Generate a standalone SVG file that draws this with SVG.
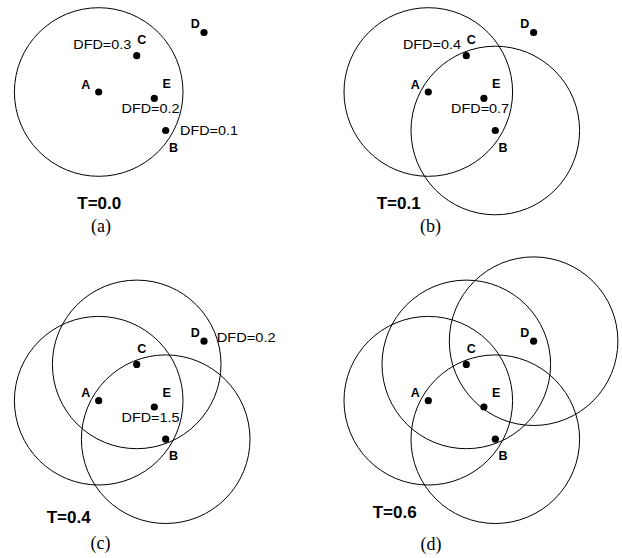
<svg xmlns="http://www.w3.org/2000/svg" width="622" height="558" viewBox="0 0 622 558">
<style>
.ring{fill:none;stroke:#000;stroke-width:1}
.dot{fill:#000}
.lbl{font-family:"Liberation Sans",Arial,sans-serif;font-weight:bold;font-size:12.5px;fill:#000}
.dfd{font-family:"Liberation Sans",Arial,sans-serif;font-size:13px;fill:#000}
.tl{font-family:"Liberation Sans",Arial,sans-serif;font-weight:bold;font-size:17px;fill:#000}
.cap{font-family:"Liberation Serif","Times New Roman",serif;font-size:18px;fill:#000;text-anchor:middle}
</style>
<rect width="622" height="558" fill="#fff"/>

<!-- Panel (a) -->
<g id="panel-a">
  <g id="a-ranges">
    <circle class="ring" cx="98.7" cy="92" r="84.3"/>
  </g>
  <g id="a-node-A"><circle class="dot" cx="98.7" cy="92" r="3.6"/><text class="lbl" x="81.2" y="89">A</text></g>
  <g id="a-node-C"><circle class="dot" cx="136.7" cy="55.7" r="3.6"/><text class="lbl" x="137.2" y="44">C</text><text class="dfd" x="73.3" y="49.3" textLength="58" lengthAdjust="spacingAndGlyphs">DFD=0.3</text></g>
  <g id="a-node-E"><circle class="dot" cx="154.3" cy="98.3" r="3.6"/><text class="lbl" x="162.5" y="88">E</text><text class="dfd" x="121.5" y="113.3" textLength="58" lengthAdjust="spacingAndGlyphs">DFD=0.2</text></g>
  <g id="a-node-B"><circle class="dot" cx="165.7" cy="130.5" r="3.6"/><text class="lbl" x="169" y="151.5">B</text><text class="dfd" x="180" y="135" textLength="58" lengthAdjust="spacingAndGlyphs">DFD=0.1</text></g>
  <g id="a-node-D"><circle class="dot" cx="204" cy="32.5" r="3.6"/><text class="lbl" x="190.7" y="28">D</text></g>
  <text class="tl" x="77.3" y="209.3">T=0.0</text>
  <text class="cap" x="101" y="231.5">(a)</text>
</g>

<!-- Panel (b) -->
<g id="panel-b" transform="translate(329.6,0)">
  <g id="b-ranges">
    <circle class="ring" cx="98.7" cy="92" r="84.3"/>
    <circle class="ring" cx="165.7" cy="130.5" r="84.3"/>
  </g>
  <g id="b-node-A"><circle class="dot" cx="98.7" cy="92" r="3.6"/><text class="lbl" x="81.2" y="89">A</text></g>
  <g id="b-node-C"><circle class="dot" cx="136.7" cy="55.7" r="3.6"/><text class="lbl" x="137.2" y="44">C</text><text class="dfd" x="73.3" y="49.3" textLength="58" lengthAdjust="spacingAndGlyphs">DFD=0.4</text></g>
  <g id="b-node-E"><circle class="dot" cx="154.3" cy="98.3" r="3.6"/><text class="lbl" x="162.5" y="88">E</text><text class="dfd" x="121.5" y="113.3" textLength="58" lengthAdjust="spacingAndGlyphs">DFD=0.7</text></g>
  <g id="b-node-B"><circle class="dot" cx="165.7" cy="130.5" r="3.6"/><text class="lbl" x="169" y="151.5">B</text></g>
  <g id="b-node-D"><circle class="dot" cx="204" cy="32.5" r="3.6"/><text class="lbl" x="190.7" y="28">D</text></g>
  <text class="tl" x="47.1" y="209.3">T=0.1</text>
  <text class="cap" x="101" y="231.5">(b)</text>
</g>

<!-- Panel (c) -->
<g id="panel-c" transform="translate(0,308.7)">
  <g id="c-ranges">
    <circle class="ring" cx="98.7" cy="92" r="84.3"/>
    <circle class="ring" cx="136.7" cy="55.7" r="84.3"/>
    <circle class="ring" cx="165.7" cy="130.5" r="84.3"/>
  </g>
  <g id="c-node-A"><circle class="dot" cx="98.7" cy="92" r="3.6"/><text class="lbl" x="81.2" y="88.5">A</text></g>
  <g id="c-node-C"><circle class="dot" cx="136.7" cy="55.7" r="3.6"/><text class="lbl" x="137.2" y="44">C</text></g>
  <g id="c-node-E"><circle class="dot" cx="154.3" cy="98.3" r="3.6"/><text class="lbl" x="162.5" y="88">E</text><text class="dfd" x="121.5" y="113.3" textLength="58" lengthAdjust="spacingAndGlyphs">DFD=1.5</text></g>
  <g id="c-node-B"><circle class="dot" cx="165.7" cy="130.5" r="3.6"/><text class="lbl" x="169" y="151">B</text></g>
  <g id="c-node-D"><circle class="dot" cx="204" cy="32.5" r="3.6"/><text class="lbl" x="190.7" y="28.5">D</text><text class="dfd" x="216.7" y="33.6" textLength="59" lengthAdjust="spacingAndGlyphs">DFD=0.2</text></g>
  <text class="tl" x="46.7" y="214.8">T=0.4</text>
  <text class="cap" x="100.5" y="240.5">(c)</text>
</g>

<!-- Panel (d) -->
<g id="panel-d" transform="translate(329.6,308.7)">
  <g id="d-ranges">
    <circle class="ring" cx="98.7" cy="92" r="84.3"/>
    <circle class="ring" cx="136.7" cy="55.7" r="84.3"/>
    <circle class="ring" cx="165.7" cy="130.5" r="84.3"/>
    <circle class="ring" cx="204" cy="32.5" r="84.3"/>
  </g>
  <g id="d-node-A"><circle class="dot" cx="98.7" cy="92" r="3.6"/><text class="lbl" x="81.2" y="88.5">A</text></g>
  <g id="d-node-C"><circle class="dot" cx="136.7" cy="55.7" r="3.6"/><text class="lbl" x="137.2" y="44">C</text></g>
  <g id="d-node-E"><circle class="dot" cx="154.3" cy="98.3" r="3.6"/><text class="lbl" x="162.5" y="88">E</text></g>
  <g id="d-node-B"><circle class="dot" cx="165.7" cy="130.5" r="3.6"/><text class="lbl" x="169" y="151">B</text></g>
  <g id="d-node-D"><circle class="dot" cx="204" cy="32.5" r="3.6"/><text class="lbl" x="190.7" y="28.5">D</text></g>
  <text class="tl" x="43.1" y="209.6">T=0.6</text>
  <text class="cap" x="101.5" y="241.5">(d)</text>
</g>
</svg>
